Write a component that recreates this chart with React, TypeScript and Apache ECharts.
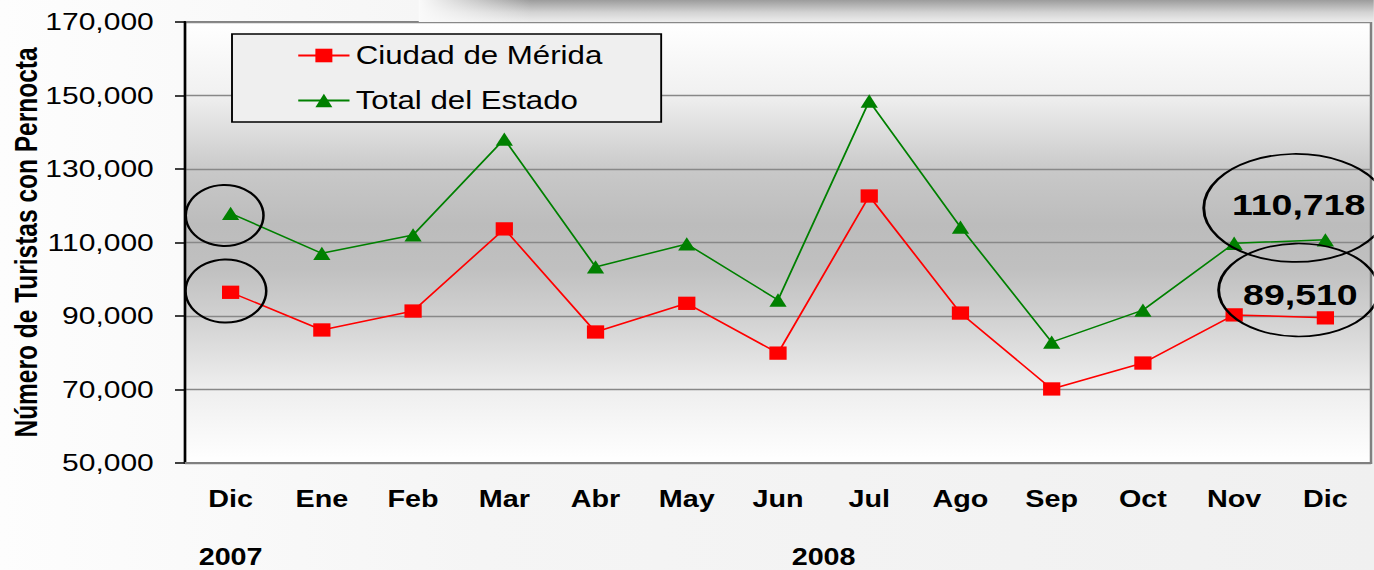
import React, { useEffect, useRef } from 'react';
import * as echarts from 'echarts';

// ---- data ----
const months = ['Dic', 'Ene', 'Feb', 'Mar', 'Abr', 'May', 'Jun', 'Jul', 'Ago', 'Sep', 'Oct', 'Nov', 'Dic'];
const years = ['2007', '2008'];
const seriesNames = ['Ciudad de Mérida', 'Total del Estado'];
const merida = [96450, 86200, 91350, 113700, 85650, 93450, 79900, 122650, 90800, 70150, 77200, 90300, 89510];
const total = [117950, 107050, 112050, 138150, 103350, 109600, 94350, 148500, 114200, 82900, 91600, 109800, 110718];
const yMin = 50000;
const yMax = 170000;
const yStep = 20000;
const yTitle = 'Número de Turistas con Pernocta';

// ---- layout ----
const S = 1.25; // horizontal stretch of the whole picture
const FULL_W = 1374;
const H = 570;
const W = FULL_W / S;
const FONT = "'Liberation Sans', Arial, Helvetica, sans-serif";

const fmt = (v: number) => v.toLocaleString('en-US');

export default function App() {
  const ref = useRef<HTMLDivElement>(null);

  useEffect(() => {
    const el = ref.current!;
    const chart = echarts.init(el, null, { renderer: 'svg', width: W, height: H });
    const last = months.length - 1;

    const ellipseStyle = { color: 'rgba(0,0,0,0)', borderColor: '#000', borderWidth: 2 };

    const option: any = {
      animation: false,
      grid: {
        left: 148,
        right: W - 1096.8,
        top: 22,
        bottom: 107,
        containLabel: false,
        outerBoundsMode: 'none',
        show: true,
        borderColor: '#808080',
        borderWidth: 2,
        backgroundColor: new echarts.graphic.LinearGradient(0, 0, 0, 1, [
          { offset: 0, color: '#ffffff' },
          { offset: 0.16, color: '#f1f1f1' },
          { offset: 0.34, color: '#c8c8c8' },
          { offset: 0.46, color: '#bcbcbc' },
          { offset: 0.56, color: '#c0c0c0' },
          { offset: 0.68, color: '#d3d3d3' },
          { offset: 0.83, color: '#eeeeee' },
          { offset: 1, color: '#ffffff' },
        ]),
      },
      legend: {
        orient: 'vertical',
        left: 185.6,
        top: 34,
        padding: [9, 47, 9, 52],
        itemGap: 20,
        itemWidth: 41,
        itemHeight: 17,
        backgroundColor: '#efefef',
        borderColor: '#000',
        borderWidth: 1.5,
        borderRadius: 0,
        selectedMode: false,
        textStyle: { fontFamily: FONT, fontSize: 25, lineHeight: 25, color: '#000' },
        data: seriesNames,
      },
      xAxis: {
        type: 'category',
        data: months,
        boundaryGap: true,
        axisLine: { show: true, lineStyle: { color: '#808080', width: 2 } },
        axisTick: { show: false },
        axisLabel: {
          margin: 25,
          fontFamily: FONT,
          fontSize: 23,
          fontWeight: 'bold',
          color: '#000',
          interval: 0,
        },
        splitLine: { show: false },
      },
      yAxis: {
        type: 'value',
        min: yMin,
        max: yMax,
        interval: yStep,
        name: yTitle,
        nameLocation: 'middle',
        nameRotate: 90,
        nameGap: 114,
        nameMoveOverlap: false,
        nameTextStyle: { fontFamily: FONT, fontSize: 24.5, fontWeight: 'bold', color: '#000' },
        axisLine: { show: true, lineStyle: { color: '#000', width: 2 } },
        axisTick: { show: true, inside: false, length: 8, lineStyle: { color: '#000', width: 1.5 } },
        axisLabel: {
          margin: 25,
          fontFamily: FONT,
          fontSize: 24,
          color: '#000',
          formatter: (v: number) => fmt(v),
        },
        splitLine: { show: true, lineStyle: { color: '#888888', width: 1.3 } },
      },
      series: [
        {
          name: seriesNames[0],
          type: 'line',
          data: merida,
          symbol: 'rect',
          symbolSize: [13.8, 13.3],
          lineStyle: { color: '#ff0000', width: 1.5 },
          itemStyle: { color: '#ff0000' },
          z: 3,
          markPoint: {
            silent: true,
            symbol: 'circle',
            itemStyle: ellipseStyle,
            data: [
              {
                coord: [0, merida[0]],
                symbolSize: [64.6, 63],
                symbolOffset: [-3.8, -1.3],
                label: { show: false },
              },
              {
                coord: [last, merida[last]],
                symbolSize: [128, 93],
                symbolOffset: [-21.4, -27.8],
                label: {
                  show: true,
                  position: 'inside',
                  offset: [1.4, 4],
                  formatter: fmt(merida[last]),
                  fontFamily: FONT,
                  fontSize: 30,
                  fontWeight: 'bold',
                  color: '#000',
                },
              },
            ],
          },
        },
        {
          name: seriesNames[1],
          type: 'line',
          data: total,
          symbol: 'triangle',
          symbolSize: [13.8, 13.3],
          lineStyle: { color: '#008000', width: 1.5 },
          itemStyle: { color: '#008000' },
          z: 3,
          markPoint: {
            silent: true,
            symbol: 'circle',
            itemStyle: ellipseStyle,
            data: [
              {
                coord: [0, total[0]],
                symbolSize: [62.2, 61],
                symbolOffset: [-4.8, 2.2],
                label: { show: false },
              },
              {
                coord: [last, total[last]],
                symbolSize: [147, 108],
                symbolOffset: [-23.8, -31.9],
                label: {
                  show: true,
                  position: 'inside',
                  offset: [2.4, -4],
                  formatter: fmt(total[last]),
                  fontFamily: FONT,
                  fontSize: 30,
                  fontWeight: 'bold',
                  color: '#000',
                },
              },
            ],
          },
        },
      ],
    };

    chart.setOption(option);

    const px = (i: number) => chart.convertToPixel({ xAxisIndex: 0 }, i) as number;
    const x2007 = px(0);
    const x2008 = (px(1) + px(last)) / 2;

    const yearText = (id: string, x: number, text: string) => ({
      id,
      type: 'text',
      silent: true,
      x,
      y: 557,
      style: {
        text,
        fontFamily: FONT,
        fontSize: 23,
        fontWeight: 'bold',
        fill: '#000',
        align: 'center',
        verticalAlign: 'middle',
      },
    });

    chart.setOption({
      graphic: [
        {
          id: 'shadow',
          type: 'rect',
          silent: true,
          shape: { x: 336, y: 0, width: W - 336, height: 22 },
          style: {
            fill: new echarts.graphic.LinearGradient(0, 0, 0, 1, [
              { offset: 0, color: '#9c9c9c' },
              { offset: 0.55, color: '#d2d2d2' },
              { offset: 1, color: '#ededed' },
            ]),
          },
        },
        {
          id: 'shadowFade',
          type: 'rect',
          silent: true,
          shape: { x: 335, y: 0, width: 90, height: 22 },
          style: {
            fill: new echarts.graphic.LinearGradient(0, 0, 1, 0, [
              { offset: 0, color: 'rgba(250,250,250,1)' },
              { offset: 1, color: 'rgba(250,250,250,0)' },
            ]),
          },
        },
        yearText('y2007', x2007, years[0]),
        yearText('y2008', x2008, years[1]),
      ],
    });

    return () => chart.dispose();
  }, []);

  return (
    <div
      style={{
        position: 'fixed',
        left: 0,
        top: 0,
        width: FULL_W,
        height: H,
        overflow: 'hidden',
        background: 'linear-gradient(90deg, #fdfdfd 0%, #f5f5f5 35%, #f0f0f0 100%)',
      }}
    >
      <div
        ref={ref}
        style={{ width: W, height: H, transform: `scaleX(${S})`, transformOrigin: '0 0' }}
      />
    </div>
  );
}
